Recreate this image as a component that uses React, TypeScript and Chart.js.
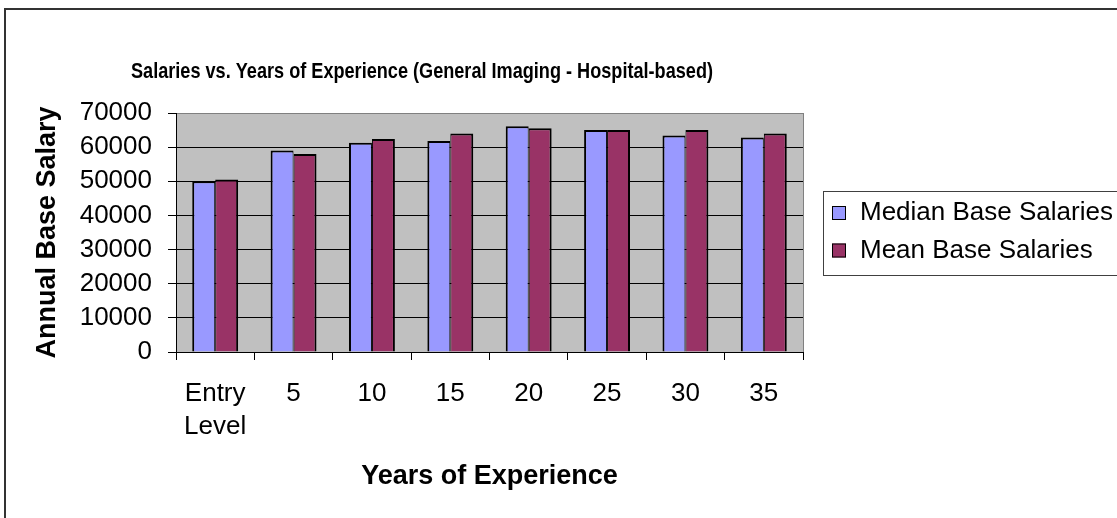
import { useEffect, useRef } from 'react';
import { Chart, registerables } from 'chart.js';

Chart.register(...registerables);

const categories: (string | string[])[] = [['Entry', 'Level'], '5', '10', '15', '20', '25', '30', '35'];
const medianSalaries = [50000, 59000, 61300, 61800, 66100, 65000, 63400, 62800];
const meanSalaries = [50500, 58000, 62400, 64000, 65500, 65000, 65000, 64000];
const seriesNames = ['Median Base Salaries', 'Mean Base Salaries'];
const seriesColors = ['#9999FF', '#993366'];
const chartTitle = 'Salaries vs. Years of Experience (General Imaging - Hospital-based)';
const xAxisTitle = 'Years of Experience';
const yAxisTitle = 'Annual Base Salary';
const yMin = 0;
const yMax = 70000;
const yStep = 10000;

const FONT = "'Liberation Sans', Arial, sans-serif";

const decorPlugin = {
  id: 'decor',
  beforeDraw(chart: any) {
    const { ctx, chartArea } = chart;
    ctx.save();
    ctx.fillStyle = '#FFFFFF';
    ctx.fillRect(0, 0, chart.width, chart.height);
    // outer frame
    ctx.strokeStyle = '#333333';
    ctx.lineWidth = 2;
    ctx.beginPath();
    ctx.moveTo(5, chart.height + 5);
    ctx.lineTo(5, 9);
    ctx.lineTo(chart.width + 5, 9);
    ctx.stroke();
    // plot background
    ctx.fillStyle = '#C0C0C0';
    ctx.fillRect(chartArea.left, chartArea.top, chartArea.right - chartArea.left, chartArea.bottom - chartArea.top);
    ctx.restore();
  },
  afterDraw(chart: any) {
    const { ctx, chartArea } = chart;
    ctx.save();
    // plot right border
    ctx.strokeStyle = '#808080';
    ctx.lineWidth = 1;
    ctx.beginPath();
    ctx.moveTo(Math.round(chartArea.right) + 0.5, chartArea.top);
    ctx.lineTo(Math.round(chartArea.right) + 0.5, chartArea.bottom);
    ctx.stroke();

    // title
    ctx.fillStyle = '#000000';
    ctx.font = `bold 22px ${FONT}`;
    ctx.textAlign = 'center';
    ctx.textBaseline = 'middle';
    ctx.fillText(chartTitle, 422, 72, 582);

    // legend
    const lx = 823.5;
    const ly = 191.5;
    ctx.strokeStyle = '#404040';
    ctx.lineWidth = 1;
    ctx.strokeRect(lx, ly, 400, 84);
    const rows = [213, 250.5];
    chart.data.datasets.forEach((ds: any, i: number) => {
      const cy = rows[i];
      ctx.fillStyle = ds.backgroundColor;
      ctx.fillRect(832, cy - 7, 14, 14);
      ctx.strokeStyle = '#000000';
      ctx.strokeRect(832.5, cy - 6.5, 13, 13);
      ctx.fillStyle = '#000000';
      ctx.font = `26px ${FONT}`;
      ctx.textAlign = 'left';
      ctx.textBaseline = 'middle';
      ctx.fillText(ds.label, 860, cy);
    });
    ctx.restore();
  },
};

export default function App() {
  const canvasRef = useRef<HTMLCanvasElement | null>(null);

  useEffect(() => {
    const canvas = canvasRef.current;
    if (!canvas) return;
    const chart = new Chart(canvas, {
      type: 'bar',
      data: {
        labels: categories as any,
        datasets: [
          {
            label: seriesNames[0],
            data: medianSalaries,
            backgroundColor: seriesColors[0],
            borderColor: '#000000',
            borderWidth: { top: 2, left: 2, right: 1, bottom: 0 },
            borderSkipped: false,
            categoryPercentage: 0.586,
            barPercentage: 1,
          },
          {
            label: seriesNames[1],
            data: meanSalaries,
            backgroundColor: seriesColors[1],
            borderColor: '#000000',
            borderWidth: { top: 2, left: 1, right: 2, bottom: 0 },
            borderSkipped: false,
            categoryPercentage: 0.586,
            barPercentage: 1,
          },
        ],
      },
      options: {
        animation: false,
        responsive: false,
        events: [],
        layout: { padding: { left: 0, right: 314, top: 113, bottom: 0 } },
        plugins: {
          legend: { display: false },
          title: { display: false },
          tooltip: { enabled: false },
        },
        scales: {
          x: {
            offset: true,
            grid: {
              offset: true,
              drawOnChartArea: false,
              drawTicks: true,
              tickLength: 8,
              color: '#000000',
              tickColor: '#000000',
            },
            border: { display: true, color: '#000000', width: 1 },
            ticks: {
              color: '#000000',
              font: { family: FONT, size: 26, lineHeight: 1.27 },
              padding: 17,
              maxRotation: 0,
              autoSkip: false,
            },
            title: {
              display: true,
              text: xAxisTitle,
              color: '#000000',
              font: { family: FONT, size: 27, weight: 'bold', lineHeight: 1.2 },
              padding: { top: 0, bottom: 25 },
            },
            afterFit(scale: any) {
              scale.height = 166;
            },
          },
          y: {
            min: yMin,
            max: yMax,
            grid: {
              color: (c: any) => (c.tick && c.tick.value === yMax ? '#808080' : '#000000'),
              tickColor: '#000000',
              tickLength: 8,
              lineWidth: 1,
            },
            border: { display: true, color: '#000000', width: 1 },
            ticks: {
              stepSize: yStep,
              autoSkip: false,
              color: '#000000',
              font: { family: FONT, size: 26, lineHeight: 1 },
              padding: 16,
              callback: (v: any) => String(v),
            },
            title: {
              display: true,
              text: yAxisTitle,
              color: '#000000',
              font: { family: FONT, size: 27, weight: 'bold', lineHeight: 1.2 },
              padding: { top: 31, bottom: 0 },
            },
            afterFit(scale: any) {
              scale.width = 176;
            },
          },
        },
      },
      plugins: [decorPlugin],
    });
    return () => chart.destroy();
  }, []);

  return (
    <div style={{ position: 'fixed', left: 0, top: 0, width: 1117, height: 518 }}>
      <canvas ref={canvasRef} width={1117} height={518} style={{ display: 'block', width: 1117, height: 518 }} />
    </div>
  );
}
